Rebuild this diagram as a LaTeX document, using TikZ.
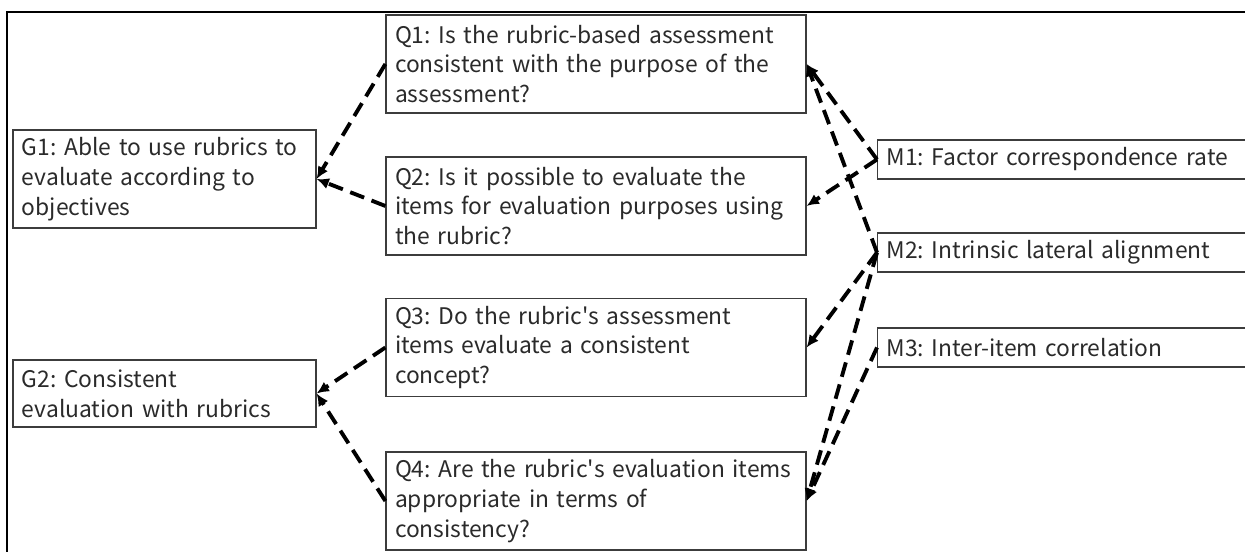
\documentclass[tikz,border=0pt]{standalone}
\usepackage{fontspec}
\setmainfont{Noto Sans CJK JP}[WordSpace=0.9]
\usetikzlibrary{arrows.meta}
\definecolor{boxline}{HTML}{3C3C3C}
\definecolor{boxtext}{HTML}{2A2A2A}
\frenchspacing

\begin{document}
\begin{tikzpicture}[
	font=\fontsize{13}{17}\selectfont\frenchspacing,
	box/.style={draw=boxline,line width=0.7pt,text=boxtext,align=left,
		inner xsep=0.18cm,inner ysep=0pt},
	goal/.style={box,text width=5.7cm,minimum height=1.96cm},
	question/.style={box,text width=8.04cm,minimum height=1.96cm},
	metric/.style={box,text width=8.04cm,minimum height=0.78cm,anchor=west},
	link/.style={-{Latex[length=7pt,width=6.5pt]},line width=2.2pt,
		dash pattern=on 8.5pt off 4.5pt}]
	\useasboundingbox (0,0) rectangle (24.9,-11.04);
	\clip (0,0) rectangle (24.9,-11.04);
	% frame round the whole model
	\draw[line width=1.1pt] (0.14,-13) |- (27,-0.24);

	% goals
	\node[goal](g1) at (3.29,-3.58){G1: Able to use rubrics to\\evaluate according to\\objectives};
	\node[goal,minimum height=1.34cm](g2) at (3.29,-7.87){G2: Consistent\\evaluation with rubrics};

	% questions
	\node[question](q1) at (11.92,-1.28){Q1: Is the rubric-based assessment\\consistent with the purpose of the\\assessment?};
	\node[question](q2) at (11.92,-4.12){Q2: Is it possible to evaluate the\\items for evaluation purposes using\\the rubric?};
	\node[question](q3) at (11.92,-6.95){Q3: Do the rubric\textquotesingle s assessment\\items evaluate a consistent\\concept?};
	\node[question](q4) at (11.92,-10.02){Q4: Are the rubric\textquotesingle s evaluation items\\appropriate in terms of\\consistency?};

	% metrics
	\node[metric](m1) at (17.54,-3.19){M1: Factor correspondence rate};
	\node[metric](m2) at (17.54,-5.05){M2: Intrinsic lateral alignment};
	\node[metric](m3) at (17.54,-6.95){M3: Inter-item correlation};

	% questions -> goals
	\draw[link](q1.west)--(g1.east);
	\draw[link](q2.west)--(g1.east);
	\draw[link](q3.west)--(g2.east);
	\draw[link](q4.west)--(g2.east);

	% metrics -> questions
	\draw[link](m1.west)--(q1.east);
	\draw[link](m1.west)--(q2.east);
	\draw[link](m2.west)--(q1.east);
	\draw[link](m2.west)--(q3.east);
	\draw[link](m2.west)--(q4.east);
	\draw[link](m3.west)--(q4.east);
\end{tikzpicture}
\end{document}
